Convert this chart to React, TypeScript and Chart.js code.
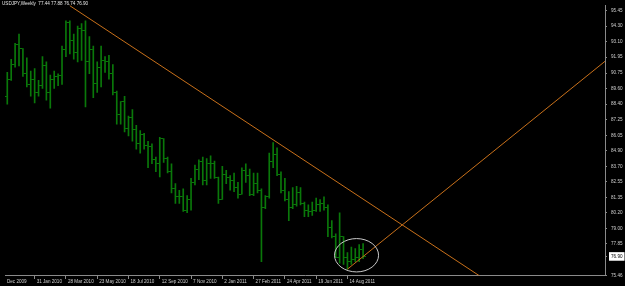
import React, { useEffect, useRef } from "react";
import { Chart, registerables } from "chart.js";

Chart.register(...registerables);

// ---- DATA (weekly USDJPY bars, index 0 = first visible week) ----
const opens = [
  89.0, 90.3, 91.4, 92.9, 92.6, 90.7, 89.9, 90.3, 89.3, 89.8,
  91.3, 89.3, 90.3, 90.5, 90.6, 92.5, 94.6, 93.2, 92.3, 94.1,
  94.0, 91.6, 92.5, 90.0, 91.2, 91.7, 91.6, 90.7, 89.3, 87.6,
  88.6, 86.6, 87.4, 86.5, 85.4, 86.1, 85.3, 85.2, 84.2, 83.9,
  85.8, 84.3, 83.3, 82.0, 81.4, 81.4, 80.4, 81.2, 82.5, 83.5,
  84.1, 82.6, 83.9, 83.9, 82.9, 81.2, 83.1, 82.9, 82.6, 82.1,
  81.6, 83.4, 83.0, 81.6, 82.4, 81.9, 80.6, 81.4, 84.1, 84.6,
  83.1, 81.9, 81.2, 80.6, 80.8, 81.7, 80.9, 80.4, 80.3, 80.4,
  80.8, 80.9, 80.6, 79.1, 78.4, 76.8, 78.4, 76.8, 76.5, 76.7,
  76.8, 77.44,
];
const highs = [
  90.8, 91.8, 93.0, 93.7, 92.6, 91.9, 90.9, 91.1, 90.2, 92.0,
  91.6, 90.6, 90.9, 90.7, 92.8, 94.7, 94.7, 93.7, 94.3, 94.5,
  94.7, 93.5, 92.8, 91.6, 92.8, 92.0, 92.1, 91.4, 89.4, 88.6,
  89.0, 87.5, 88.0, 86.8, 86.4, 86.2, 85.6, 85.4, 84.4, 85.9,
  85.8, 84.4, 83.9, 82.4, 81.9, 82.0, 81.5, 82.8, 83.8, 84.2,
  84.4, 84.3, 84.5, 84.1, 82.9, 83.7, 83.4, 83.0, 83.2, 82.5,
  83.6, 83.9, 83.5, 83.2, 83.2, 82.0, 81.5, 84.7, 85.5, 85.1,
  83.3, 82.8, 81.8, 82.1, 82.2, 82.1, 81.0, 80.8, 81.0, 81.3,
  81.2, 81.4, 80.8, 79.6, 78.6, 80.2, 78.4, 77.2, 77.6, 77.5,
  77.8, 77.88,
];
const lows = [
  88.4, 90.2, 91.2, 91.3, 90.5, 89.7, 89.0, 88.5, 89.0, 89.6,
  88.7, 88.1, 89.6, 89.8, 89.9, 92.0, 92.2, 91.8, 91.6, 91.7,
  88.2, 90.7, 88.9, 89.3, 89.7, 90.8, 90.3, 89.1, 86.9, 86.9,
  86.3, 86.0, 85.6, 85.0, 84.7, 85.0, 83.6, 83.9, 83.3, 82.9,
  84.0, 83.2, 81.7, 80.9, 80.9, 80.3, 80.2, 80.4, 82.3, 82.7,
  82.3, 82.3, 82.8, 82.8, 80.9, 81.2, 82.4, 81.9, 81.8, 81.3,
  81.6, 82.5, 81.5, 81.5, 81.7, 76.5, 80.5, 81.3, 83.6, 83.0,
  81.7, 81.1, 79.6, 80.5, 80.7, 80.8, 79.9, 79.9, 80.0, 80.3,
  80.3, 80.4, 78.4, 78.3, 76.8, 76.4, 76.3, 75.94, 76.3, 76.5,
  76.5, 76.74,
];
const closes = [
  90.3, 91.4, 92.9, 92.6, 90.7, 89.9, 90.3, 89.3, 89.8, 91.3,
  89.3, 90.3, 90.5, 90.6, 92.5, 94.6, 93.2, 92.3, 94.1, 94.0,
  91.6, 92.5, 90.0, 91.2, 91.7, 91.6, 90.7, 89.3, 87.6, 88.6,
  86.6, 87.4, 86.5, 85.4, 86.1, 85.3, 85.2, 84.2, 83.9, 85.8,
  84.3, 83.3, 82.0, 81.4, 81.4, 80.4, 81.2, 82.5, 83.5, 84.1,
  82.6, 83.9, 83.9, 82.9, 81.2, 83.1, 82.9, 82.6, 82.1, 81.6,
  83.4, 83.0, 81.6, 82.4, 81.9, 80.6, 81.4, 84.1, 84.6, 83.1,
  81.9, 81.2, 80.6, 80.8, 81.7, 80.9, 80.4, 80.3, 80.4, 80.8,
  80.9, 80.6, 79.1, 78.4, 76.8, 78.4, 76.8, 76.5, 76.7, 76.8,
  77.45, 76.9,
];

const xTickIdx = [-0.583, 7, 15, 23, 31, 39, 47, 55, 63, 71, 79, 87];
const xTickLabels = [
  "Dec 2009", "31 Jan 2010", "28 Mar 2010", "23 May 2010", "18 Jul 2010",
  "12 Sep 2010", "7 Nov 2010", "2 Jan 2011", "27 Feb 2011", "24 Apr 2011",
  "19 Jun 2011", "14 Aug 2011",
];
const yTickValues = [
  95.45, 94.3, 93.1, 91.95, 90.75, 89.6, 88.4, 87.25, 86.05, 84.9,
  83.7, 82.55, 81.35, 80.2, 79.0, 77.85, 76.9, 75.46,
];
const lastPrice = 76.9;
const symbolTitle = "USDJPY,Weekly";

const trendDown = [
  { x: 16, y: 95.84 },
  { x: 121, y: 75.39 },
];
const trendUp = [
  { x: 87, y: 75.94 },
  { x: 160, y: 93.34 },
];
const ellipseCenter = { x: 89.33, y: 76.99 };
const ellipseRadius = { x: 5.63, y: 1.26 };

const xMin = -0.583;
const xMax = 152.87;
const yMin = 75.46;
const yMax = 95.895;

const BAR_GREEN = "#0a780a";
const ORANGE = "#c8701a";
const AXIS = "#8a8a8a";
const LABEL = "#cfcfcf";
const FONT = { family: "'Liberation Sans', Arial, sans-serif", size: 4.6, lineHeight: 1 };

function tickImage(side: "L" | "R", color: string) {
  const c = document.createElement("canvas");
  c.width = 5;
  c.height = 1;
  const g = c.getContext("2d")!;
  g.fillStyle = color;
  if (side === "L") g.fillRect(0, 0, 2, 1);
  else g.fillRect(3, 0, 2, 1);
  return c;
}

export default function App() {
  const ref = useRef<HTMLCanvasElement | null>(null);

  useEffect(() => {
    if (!ref.current) return;
    const last = opens.length - 1;
    const header = `${symbolTitle}  ${opens[last].toFixed(2)} ${highs[last].toFixed(2)} ${lows[last].toFixed(2)} ${closes[last].toFixed(2)}`;

    const overlay = {
      id: "overlay",
      afterDatasetsDraw(chart: any) {
        const { ctx, chartArea } = chart;
        const xs = chart.scales.x;
        const ys = chart.scales.y;
        ctx.save();
        ctx.beginPath();
        ctx.rect(chartArea.left, chartArea.top, chartArea.right - chartArea.left, chartArea.bottom - chartArea.top);
        ctx.clip();
        const cx = xs.getPixelForValue(ellipseCenter.x);
        const cy = ys.getPixelForValue(ellipseCenter.y);
        const rx = Math.abs(xs.getPixelForValue(ellipseCenter.x + ellipseRadius.x) - cx);
        const ry = Math.abs(ys.getPixelForValue(ellipseCenter.y + ellipseRadius.y) - cy);
        ctx.beginPath();
        ctx.ellipse(cx, cy, rx, ry, 0, 0, Math.PI * 2);
        ctx.strokeStyle = "#c8c8c8";
        ctx.lineWidth = 1;
        ctx.stroke();
        ctx.restore();

        ctx.save();
        ctx.font = `${FONT.size}px ${FONT.family}`;
        ctx.fillStyle = "#e6e6e6";
        ctx.textBaseline = "middle";
        ctx.textAlign = "left";
        ctx.fillText(header, 2, 3.6);
        ctx.restore();
      },
    };

    const openImg = tickImage("L", BAR_GREEN);
    const closeImg = tickImage("R", BAR_GREEN);

    const chart = new Chart(ref.current, {
      type: "bar",
      data: {
        datasets: [
          {
            type: "line",
            data: trendDown,
            borderColor: ORANGE,
            borderWidth: 1,
            pointRadius: 0,
            fill: false,
          } as any,
          {
            type: "line",
            data: trendUp,
            borderColor: ORANGE,
            borderWidth: 1,
            pointRadius: 0,
            fill: false,
          } as any,
          {
            type: "scatter",
            data: opens.map((o, i) => ({ x: i, y: o })),
            pointStyle: openImg,
            pointRadius: 1,
          } as any,
          {
            type: "scatter",
            data: closes.map((c, i) => ({ x: i, y: c })),
            pointStyle: closeImg,
            pointRadius: 1,
          } as any,
          {
            type: "bar",
            data: highs.map((h, i) => ({ x: i, y: [lows[i], h] })),
            backgroundColor: BAR_GREEN,
            borderWidth: 0,
            barThickness: 1,
            grouped: false,
          } as any,
        ],
      },
      options: {
        animation: false,
        responsive: false,
        events: [],
        layout: { padding: 0 },
        plugins: {
          legend: { display: false },
          tooltip: { enabled: false },
        },
        scales: {
          x: {
            type: "linear",
            min: xMin,
            max: xMax,
            offset: false,
            grid: {
              drawOnChartArea: false,
              drawTicks: true,
              tickLength: 3.5,
              offset: false,
              tickColor: (c: any) => (c.index === 0 ? "rgba(0,0,0,0)" : AXIS),
            },
            border: { display: true, color: AXIS, width: 1 },
            ticks: {
              autoSkip: false,
              maxRotation: 0,
              minRotation: 0,
              align: "start",
              labelOffset: 2,
              padding: 0,
              color: LABEL,
              font: FONT,
              callback: (_v: any, i: number) => xTickLabels[i] ?? "",
            },
            afterBuildTicks: (s: any) => {
              s.ticks = xTickIdx.map((v) => ({ value: v }));
            },
            afterFit: (s: any) => {
              s.height = 10.5;
              s.paddingLeft = 0;
              s.paddingRight = 0;
            },
          } as any,
          y: {
            type: "linear",
            position: "right",
            min: yMin,
            max: yMax,
            grid: {
              drawOnChartArea: false,
              drawTicks: true,
              tickLength: 2,
              tickColor: AXIS,
            },
            border: { display: true, color: AXIS, width: 1 },
            ticks: {
              autoSkip: false,
              padding: 4,
              font: FONT,
              color: (c: any) => (c.tick && c.tick.value === lastPrice ? "#000" : LABEL),
              showLabelBackdrop: (c: any) => !!(c.tick && c.tick.value === lastPrice),
              backdropColor: "#ffffff",
              backdropPadding: { top: 2, bottom: 2, left: 2, right: 2 },
              callback: (v: any) => Number(v).toFixed(2),
            },
            afterBuildTicks: (s: any) => {
              s.ticks = yTickValues.map((v) => ({ value: v }));
            },
            afterFit: (s: any) => {
              s.width = 20;
              s.paddingTop = 0;
              s.paddingBottom = 0;
            },
          } as any,
        },
      },
      plugins: [overlay],
    });

    return () => chart.destroy();
  }, []);

  return (
    <div
      style={{
        position: "fixed",
        left: 0,
        top: 0,
        width: 625,
        height: 286,
        background: "#000",
      }}
    >
      <canvas ref={ref} width={625} height={286} style={{ display: "block" }} />
    </div>
  );
}
